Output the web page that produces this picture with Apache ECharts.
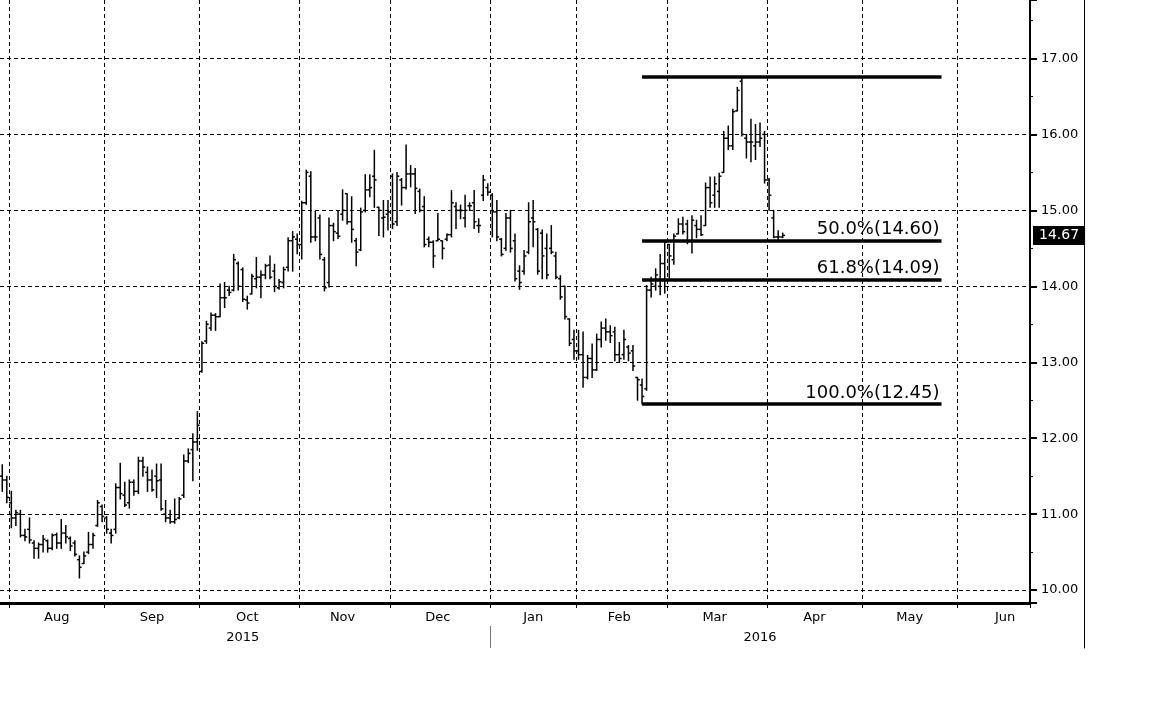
<!DOCTYPE html>
<html><head><meta charset="utf-8">
<script src="https://cdn.jsdelivr.net/npm/echarts@6/dist/echarts.min.js"></script>
<style>html,body{margin:0;padding:0;background:#fff}#c{width:1152px;height:720px}</style>
</head><body><div id="c"></div>
<script>
// ---- calendar (trading days) ----
const firstDay = [2015, 6, 30];   // 2015-07-30
const lastDay = [2016, 5, 22];    // 2016-06-22
const holidays = ['2015-09-07','2015-11-26','2015-12-25','2016-01-01','2016-01-18','2016-02-15','2016-03-25','2016-05-30'];
const monthAbbr = ['Jan','Feb','Mar','Apr','May','Jun','Jul','Aug','Sep','Oct','Nov','Dec'];
const yTicks = [10, 11, 12, 13, 14, 15, 16, 17];

// ---- daily OHLC values (Jul 30 2015 .. Apr 6 2016) ----
const openP = [11.50,11.45,
 11.15,10.95,11.00,10.72,10.80,10.62,10.55,10.60,10.65,10.55,10.73,10.62,10.75,10.68,10.62,10.40,10.35,10.50,10.60,10.85,11.10,
 10.95,10.75,10.80,11.35,11.25,11.15,11.42,11.30,11.70,11.55,11.45,11.50,11.45,11.00,10.95,10.90,10.95,11.25,11.70,11.85,11.95,
 12.88,13.28,13.45,13.62,13.60,13.85,13.95,13.95,14.30,14.22,13.82,13.90,14.10,14.12,14.15,14.28,14.20,13.98,14.05,14.25,14.60,14.62,
 14.55,15.10,15.45,14.65,14.90,14.35,14.05,14.80,14.70,14.95,15.22,14.85,14.60,14.48,15.00,15.27,15.45,15.04,14.90,14.95,
 15.45,14.85,15.40,15.30,15.48,15.48,15.25,15.05,14.62,14.58,14.60,14.60,14.62,14.68,15.05,15.00,14.90,15.06,15.10,14.80,15.20,15.30,
 15.20,14.98,14.62,14.50,14.90,14.60,14.20,14.20,14.45,14.90,14.75,14.70,14.50,14.50,14.40,14.10,14.00,13.57,13.30,
 13.15,13.10,12.80,13.05,12.90,13.30,13.45,13.40,13.40,13.10,13.10,13.20,13.15,12.80,12.70,12.65,13.95,14.00,14.00,14.30,
 14.55,14.35,14.69,14.82,14.82,14.60,14.80,14.75,14.80,15.30,15.20,15.25,15.50,15.95,15.85,16.31,16.70,15.95,15.90,15.85,15.90,16.00,
 15.40,14.90,14.65,14.65];
const highP = [11.65,11.50,
 11.30,11.05,11.05,10.80,10.95,10.65,10.62,10.72,10.66,10.74,10.75,10.93,10.85,10.70,10.65,10.45,10.50,10.76,10.75,11.18,11.12,
 10.97,10.80,11.40,11.67,11.42,11.45,11.45,11.75,11.75,11.62,11.58,11.66,11.66,11.18,11.05,11.20,11.22,11.78,11.86,12.06,12.35,
 13.27,13.54,13.65,13.64,14.03,14.05,14.00,14.42,14.32,14.24,13.87,14.16,14.38,14.20,14.29,14.40,14.29,14.09,14.25,14.64,14.72,14.69,
 15.12,15.53,15.51,14.99,14.94,14.38,14.90,14.83,14.99,15.27,15.22,15.18,14.63,15.03,15.47,15.47,15.79,15.04,15.13,15.13,
 15.48,15.50,15.42,15.86,15.59,15.55,15.28,15.18,14.65,14.60,14.96,14.60,14.69,15.26,15.10,15.07,15.20,15.10,15.26,14.89,15.46,15.35,
 15.22,15.13,14.63,14.96,15.00,14.69,14.27,14.47,15.10,15.13,14.76,14.74,14.69,14.80,14.45,14.14,14.00,13.57,13.42,
 13.42,13.40,13.09,13.24,13.37,13.53,13.57,13.48,13.46,13.26,13.42,13.22,13.22,12.80,12.78,14.01,14.12,14.23,14.42,14.60,
 14.55,14.69,14.89,14.91,14.87,14.93,14.87,14.93,15.36,15.44,15.44,15.49,16.04,16.11,16.33,16.62,16.76,16.00,16.20,16.13,16.15,16.04,
 15.42,15.00,14.73,14.70];
const lowP = [11.30,11.15,
 10.82,10.85,10.70,10.65,10.62,10.42,10.42,10.50,10.50,10.53,10.55,10.55,10.62,10.52,10.45,10.16,10.35,10.48,10.55,10.84,10.90,
 10.75,10.62,10.75,11.20,11.10,11.08,11.25,11.27,11.50,11.30,11.30,11.22,11.05,10.90,10.88,10.88,10.94,11.22,11.68,11.44,11.84,
 12.87,13.25,13.42,13.42,13.60,13.72,13.88,13.94,13.95,13.80,13.70,13.90,13.98,13.85,14.10,14.10,13.93,13.96,13.98,14.20,14.20,14.43,
 14.36,15.08,14.58,14.60,14.36,13.94,13.99,14.60,14.63,14.87,14.82,14.58,14.27,14.47,14.98,15.18,15.04,14.67,14.65,14.74,
 14.76,14.80,15.07,15.28,15.31,14.96,14.98,14.52,14.52,14.25,14.60,14.36,14.60,14.65,14.76,14.89,14.78,15.00,14.76,14.71,15.13,15.20,
 14.65,14.60,14.40,14.47,14.45,14.07,13.96,14.16,14.43,14.52,14.16,14.10,14.10,14.43,14.10,13.83,13.57,13.22,13.04,
 13.04,12.67,12.78,12.80,12.89,13.20,13.29,13.26,13.02,13.00,13.04,13.02,12.89,12.50,12.45,12.63,13.86,13.95,13.89,13.91,
 14.11,14.29,14.69,14.69,14.56,14.44,14.64,14.67,14.80,15.04,15.04,15.04,15.50,15.80,15.80,16.31,15.98,15.69,15.64,15.67,15.84,15.36,
 15.00,14.64,14.62,14.64];
const closeP = [11.45,11.22,
 10.95,11.02,10.72,10.70,10.66,10.55,10.60,10.67,10.55,10.72,10.62,10.75,10.70,10.58,10.47,10.30,10.45,10.60,10.72,11.15,10.97,
 10.80,10.72,11.35,11.27,11.12,11.42,11.30,11.70,11.62,11.45,11.32,11.44,11.07,10.95,10.90,10.93,11.20,11.70,11.80,11.95,12.17,
 13.25,13.50,13.62,13.60,13.85,13.85,13.92,14.35,14.00,13.83,13.78,14.13,14.12,14.15,14.27,14.12,14.00,14.06,14.22,14.60,14.65,14.55,
 15.10,15.50,14.65,14.65,14.42,13.98,14.80,14.72,14.66,15.00,14.85,14.75,14.45,14.98,15.27,15.30,15.40,15.00,14.91,14.98,
 14.82,15.45,15.30,15.48,15.48,15.29,15.00,14.55,14.58,14.40,14.62,14.50,14.68,15.10,15.00,15.00,15.00,15.06,14.85,14.80,15.40,15.24,
 14.98,14.65,14.42,14.90,14.50,14.10,14.05,14.40,14.85,14.85,14.20,14.40,14.15,14.45,14.12,13.86,13.60,13.25,13.15,
 13.10,12.80,13.05,12.90,13.30,13.45,13.40,13.35,13.10,13.05,13.30,13.12,12.95,12.77,12.55,13.95,14.03,14.15,14.30,14.58,
 14.40,14.66,14.82,14.72,14.60,14.87,14.75,14.68,15.30,15.10,15.35,15.45,15.95,15.85,16.30,16.58,16.00,15.90,15.90,15.90,15.95,15.40,
 15.20,14.65,14.65,14.67];

// ---- Fibonacci retracement ----
const fibValues = [16.76, 14.60, 14.09, 12.45];
const fibLabels = ['', '50.0%(14.60)', '61.8%(14.09)', '100.0%(12.45)'];
const fibStartIdx = 141, fibEndIdx = 207;

// ---- build categories ----
const cats = [];
for (let d = new Date(Date.UTC(firstDay[0], firstDay[1], firstDay[2]));
     d.getTime() <= Date.UTC(lastDay[0], lastDay[1], lastDay[2]);
     d.setUTCDate(d.getUTCDate() + 1)) {
  const wd = d.getUTCDay();
  if (wd === 0 || wd === 6) continue;
  const s = d.toISOString().slice(0, 10);
  if (holidays.indexOf(s) >= 0) continue;
  cats.push(s);
}
const monthStarts = new Set(), yearStartList = [];
const monthGroups = [];
for (let i = 0; i < cats.length; i++) {
  const m = cats[i].slice(0, 7), pm = i ? cats[i - 1].slice(0, 7) : null;
  if (m !== pm) { if (i > 0) monthStarts.add(i); monthGroups.push({ start: i, key: m }); }
  if (i > 0 && cats[i].slice(0, 4) !== cats[i - 1].slice(0, 4)) yearStartList.push(i);
}
const monthLabelIdx = new Set();
monthGroups.forEach((g, k) => {
  if (g.start === 0) return;
  const end = k + 1 < monthGroups.length ? monthGroups[k + 1].start - 1 : g.start + 20;
  monthLabelIdx.add(Math.floor((g.start + end) / 2));
});
const yearLabelIdx = new Set();
const yStarts = [0].concat(yearStartList, [cats.length]);
for (let k = 0; k < yStarts.length - 1; k++) yearLabelIdx.add(Math.floor((yStarts[k] + yStarts[k + 1] - 1) / 2));

const ohlc = openP.map((o, i) => [i, o, highP[i], lowP[i], closeP[i]]);
const lastPrice = closeP[closeP.length - 1];

const FONT = 'DejaVu Sans';
const dash = [4, 3];

const chart = echarts.init(document.getElementById('c'), null, { renderer: 'canvas' });
chart.setOption({
  animation: false,
  backgroundColor: '#fff',
  grid: [
    { left: 0, right: 122, top: 0, bottom: 117 },
    { left: 1084, top: 0, width: 1, height: 648 },
    { left: 0, right: 122, top: 626, height: 22 }
  ],
  xAxis: [
    {
      type: 'category', data: cats, gridIndex: 0, boundaryGap: true,
      axisLine: { show: true, onZero: false, lineStyle: { color: '#000', width: 3 } },
      axisTick: { show: true, interval: (i) => monthStarts.has(i), length: 5, lineStyle: { color: '#000', width: 1 } },
      axisLabel: {
        interval: (i) => monthLabelIdx.has(i),
        formatter: (v) => monthAbbr[parseInt(v.slice(5, 7), 10) - 1],
        color: '#000', fontFamily: FONT, fontSize: 13, margin: 8
      },
      splitLine: { show: true, interval: (i) => monthStarts.has(i), lineStyle: { color: '#000', width: 1, type: dash } }
    },
    {
      type: 'category', data: cats, gridIndex: 0, position: 'bottom', offset: 22, boundaryGap: true,
      axisLine: { show: false },
      axisTick: { show: false },
      axisLabel: {
        interval: (i) => yearLabelIdx.has(i),
        formatter: (v) => v.slice(0, 4),
        color: '#000', fontFamily: FONT, fontSize: 13, margin: 6
      },
      splitLine: { show: false }
    },
    { type: 'value', gridIndex: 1, show: false },
    { type: 'category', data: cats, gridIndex: 2, boundaryGap: true, show: false }
  ],
  yAxis: [
    {
      type: 'value', gridIndex: 0, position: 'right', min: 9.83, max: 17.77, splitNumber: 8,
      axisLine: { show: true, onZero: false, lineStyle: { color: '#000', width: 2 } },
      axisTick: { show: true, length: 7, lineStyle: { color: '#000', width: 2 } },
      minorTick: { show: true, splitNumber: 2, length: 3, lineStyle: { color: '#000', width: 1 } },
      axisLabel: {
        showMinLabel: false, showMaxLabel: false,
        formatter: (v) => v.toFixed(2), color: '#000', fontFamily: FONT, fontSize: 13, margin: 11
      },
      splitLine: { show: false }
    },
    {
      type: 'value', gridIndex: 1, position: 'left',
      axisLine: { show: true, onZero: false, lineStyle: { color: '#000', width: 1 } },
      axisTick: { show: false }, axisLabel: { show: false }, splitLine: { show: false }
    },
    { type: 'value', gridIndex: 2, min: 0, max: 1, show: false }
  ],
  series: [
    {
      type: 'line', xAxisIndex: 0, yAxisIndex: 0, data: [], silent: true, z: 1,
      markLine: {
        silent: true, symbol: 'none', animation: false,
        label: { show: false },
        lineStyle: { color: '#000', width: 1, type: dash },
        data: yTicks.map(v => ({ yAxis: v }))
      }
    },
    {
      type: 'custom', xAxisIndex: 0, yAxisIndex: 0, z: 3,
      data: ohlc,
      encode: { x: 0, y: [1, 2, 3, 4] },
      renderItem: function (params, api) {
        const x = api.value(0);
        const o = api.coord([x, api.value(1)]);
        const h = api.coord([x, api.value(2)]);
        const l = api.coord([x, api.value(3)]);
        const c = api.coord([x, api.value(4)]);
        const w = Math.max(2, api.size([1, 0])[0] * 0.5);
        const st = { stroke: '#000', lineWidth: 1.5 };
        return {
          type: 'group', children: [
            { type: 'line', shape: { x1: h[0], y1: h[1] - 0.5, x2: l[0], y2: l[1] + 0.5 }, style: st },
            { type: 'line', shape: { x1: o[0] - w, y1: o[1], x2: o[0], y2: o[1] }, style: st },
            { type: 'line', shape: { x1: c[0], y1: c[1], x2: c[0] + w, y2: c[1] }, style: st }
          ]
        };
      }
    },
    {
      // year separator below the month labels, placed at the first category of each new year
      type: 'custom', xAxisIndex: 3, yAxisIndex: 2, silent: true,
      data: yearStartList.map(i => [i]),
      encode: { x: 0 },
      renderItem: function (params, api) {
        const p = api.coord([api.value(0), 0]);
        const bx = Math.round(p[0] - api.size([1, 0])[0] / 2) + 0.5;
        const cs = params.coordSys;
        return { type: 'line', shape: { x1: bx, y1: cs.y, x2: bx, y2: cs.y + cs.height }, style: { stroke: '#777', lineWidth: 1 } };
      }
    },
    {
      type: 'line', xAxisIndex: 0, yAxisIndex: 0, data: [], silent: true, z: 5,
      markLine: {
        silent: true, symbol: 'none', animation: false,
        lineStyle: { color: '#000', width: 3.5, type: 'solid' },
        data: fibValues.map((v, k) => [
          { coord: [cats[fibStartIdx], v], label: { show: !!fibLabels[k], formatter: fibLabels[k] } },
          { coord: [cats[fibEndIdx], v] }
        ]),
        label: { position: 'insideEndTop', color: '#000', fontFamily: FONT, fontSize: 18, distance: [2, 2] }
      }
    },
    {
      type: 'line', xAxisIndex: 0, yAxisIndex: 0, data: [], silent: true, z: 6,
      markLine: {
        silent: true, symbol: 'none', animation: false,
        lineStyle: { color: 'transparent', width: 1, type: 'solid' },
        data: [{ yAxis: lastPrice }],
        label: {
          show: true, position: 'end', formatter: lastPrice.toFixed(2),
          color: '#fff', backgroundColor: '#000', padding: [3, 6, 2, 6],
          fontFamily: FONT, fontSize: 14, distance: 3
        }
      }
    }
  ]
});
</script>
</body></html>
